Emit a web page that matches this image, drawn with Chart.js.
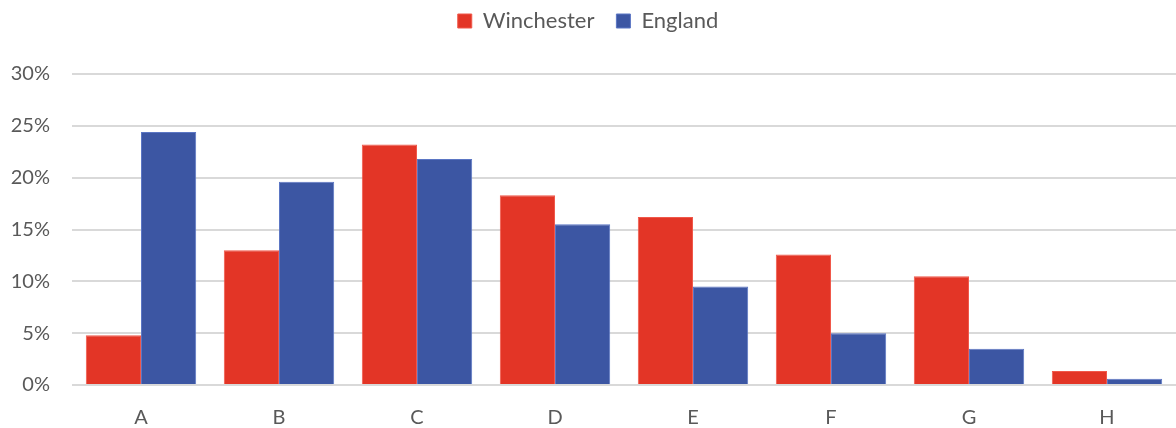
<!DOCTYPE html>
<html>
<head>
<meta charset="utf-8">
<script src="https://cdn.jsdelivr.net/npm/chart.js@4"></script>
<style>
  html, body { margin: 0; padding: 0; background: #fff; }
  #wrap { width: 1176px; height: 428px; }
</style>
</head>
<body>
<div id="wrap"><canvas id="chart" width="1176" height="428"></canvas></div>
<script>
const categories = ['A', 'B', 'C', 'D', 'E', 'F', 'G', 'H'];
const winchester = [4.8, 13.0, 23.2, 18.3, 16.2, 12.6, 10.5, 1.35];
const england = [24.4, 19.6, 21.8, 15.5, 9.5, 5.0, 3.5, 0.6];

const textColor = '#595959';
const fontFamily = 'Lato, "Open Sans", sans-serif';

// Extra gap between the legend and the plot area
const legendGap = {
  id: 'legendGap',
  beforeInit(chart) {
    const origFit = chart.legend.fit;
    chart.legend.fit = function () {
      origFit.bind(chart.legend)();
      this.height += 32;
    };
  }
};

const ctx = document.getElementById('chart').getContext('2d');

new Chart(ctx, {
  type: 'bar',
  data: {
    labels: categories,
    datasets: [
      {
        label: 'Winchester',
        data: winchester,
        backgroundColor: '#E33526',
        borderColor: '#F0584A',
        borderWidth: 1
      },
      {
        label: 'England',
        data: england,
        backgroundColor: '#3C56A3',
        borderColor: '#5B76C4',
        borderWidth: 1
      }
    ]
  },
  plugins: [legendGap],
  options: {
    responsive: false,
    animation: false,
    layout: { padding: { top: -12, right: 0, left: 0, bottom: 0 } },
    datasets: {
      bar: { categoryPercentage: 0.8, barPercentage: 1.0 }
    },
    plugins: {
      legend: {
        display: true,
        position: 'top',
        labels: {
          boxWidth: 14,
          boxHeight: 14,
          padding: 22,
          color: textColor,
          font: { family: fontFamily, size: 22 }
        }
      },
      tooltip: { enabled: false }
    },
    scales: {
      x: {
        grid: { display: false, drawTicks: false },
        border: { display: false },
        ticks: {
          color: textColor,
          padding: 21,
          font: { family: fontFamily, size: 20 }
        },
        afterFit(scale) { scale.height = 43; }
      },
      y: {
        min: 0,
        max: 30,
        border: { display: false },
        grid: { color: '#D9D9D9', lineWidth: 2, drawTicks: false },
        ticks: {
          stepSize: 5,
          color: textColor,
          padding: 22,
          font: { family: fontFamily, size: 20 },
          callback: v => v + '%'
        },
        afterFit(scale) { scale.width = 72; }
      }
    }
  }
});
</script>
</body>
</html>
